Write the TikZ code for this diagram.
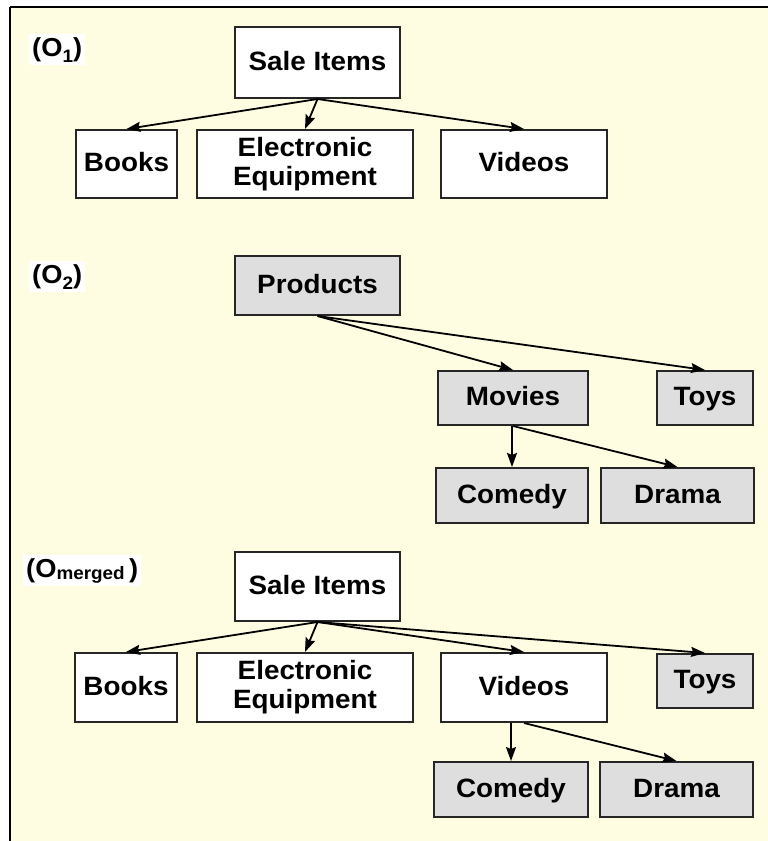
\documentclass[tikz,border=0pt]{standalone}
\usepackage{fontspec}
\setmainfont{Liberation Sans}[FakeStretch=1.05]
\usetikzlibrary{arrows.meta}
\definecolor{cream}{HTML}{FFFDE1}
\definecolor{boxgray}{HTML}{DEDEDE}
\definecolor{edgecol}{HTML}{262626}
\newcommand\lowsub[2]{\raisebox{#1}{\fontsize{18}{18}\selectfont #2}}
\begin{document}
\begin{tikzpicture}[x=1pt,y=-1pt,
  box2/.style={draw=edgecol, line width=2pt, fill=white, inner sep=0pt, align=center,
              font=\bfseries\fontsize{26.5}{29}\selectfont},
  box/.style={box2, text height=20.6pt, text depth=5pt},
  gbox/.style={box, fill=boxgray},
  arr/.style={-{Stealth[length=14pt,width=10pt,inset=2pt]}, line width=1.8pt, black},
  lbl/.style={anchor=base west, fill=white, inner sep=3pt,
              font=\bfseries\fontsize{26}{28}\selectfont}]
\useasboundingbox (0,0) rectangle (768,841);
\fill[white] (0,0) rectangle (768,841);
\fill[cream] (10,7) rectangle (768,841);
\draw[line width=2pt, black] (9.5,6.5) -- (768,6.5);
\draw[line width=2pt, black] (9.5,6.5) -- (9.5,841);

% ---------- O1 ----------
\node[lbl] (l1) at (29,56) {(O\lowsub{-6pt}{1})};
\node[box, minimum width=165pt, minimum height=71pt] (si1) at (317.5,62.5) {Sale Items};
\node[box, minimum width=101pt, minimum height=68pt] (bk1) at (126.5,164) {Books};
\node[box2, minimum width=216pt, minimum height=68pt] (el1) at (305,164) {Electronic\\Equipment};
\node[box, minimum width=166pt, minimum height=68pt] (vd1) at (524,164) {Videos};
\draw[arr] (si1.south) -- (bk1.north);
\draw[arr] (si1.south) -- (el1.north);
\draw[arr] (si1.south) -- (vd1.north);

% ---------- O2 ----------
\node[lbl] (l2) at (29,283) {(O\lowsub{-6pt}{2})};
\node[gbox, minimum width=165pt, minimum height=59pt] (pr2) at (317.5,285.5) {Products};
\node[gbox, minimum width=150pt, minimum height=54pt] (mv2) at (513,398) {Movies};
\node[gbox, minimum width=96pt, minimum height=54pt] (ty2) at (705,398) {Toys};
\node[gbox, minimum width=152pt, minimum height=55pt] (cm2) at (512,495.5) {Comedy};
\node[gbox, minimum width=153pt, minimum height=55pt] (dr2) at (677.5,495.5) {Drama};
\draw[arr] (pr2.south) -- (mv2.north);
\draw[arr] (pr2.south) -- (ty2.north);
\draw[arr] (mv2.south -| cm2.north) -- (cm2.north);
\draw[arr] (mv2.south) -- (dr2.north);

% ---------- O merged ----------
\node[lbl] (l3) at (23,577) {(O\lowsub{-2pt}{merged}\,)};
\node[box, minimum width=165pt, minimum height=69pt] (si3) at (317.5,586.5) {Sale Items};
\node[box, minimum width=102pt, minimum height=69pt] (bk3) at (126,687.5) {Books};
\node[box2, minimum width=216pt, minimum height=69pt] (el3) at (305,687.5) {Electronic\\Equipment};
\node[box, minimum width=166pt, minimum height=69pt] (vd3) at (524,687.5) {Videos};
\node[gbox, minimum width=96pt, minimum height=54pt] (ty3) at (705,681) {Toys};
\node[gbox, minimum width=154pt, minimum height=55pt] (cm3) at (511,789.5) {Comedy};
\node[gbox, minimum width=153pt, minimum height=55pt] (dr3) at (676.5,789.5) {Drama};
\draw[arr] (si3.south) -- (bk3.north);
\draw[arr] (si3.south) -- (el3.north);
\draw[arr] (si3.south) -- (vd3.north);
\draw[arr] (si3.south) -- (ty3.north);
\draw[arr] (vd3.south -| cm3.north) -- (cm3.north);
\draw[arr] (vd3.south) -- (dr3.north);
\end{tikzpicture}
\end{document}
